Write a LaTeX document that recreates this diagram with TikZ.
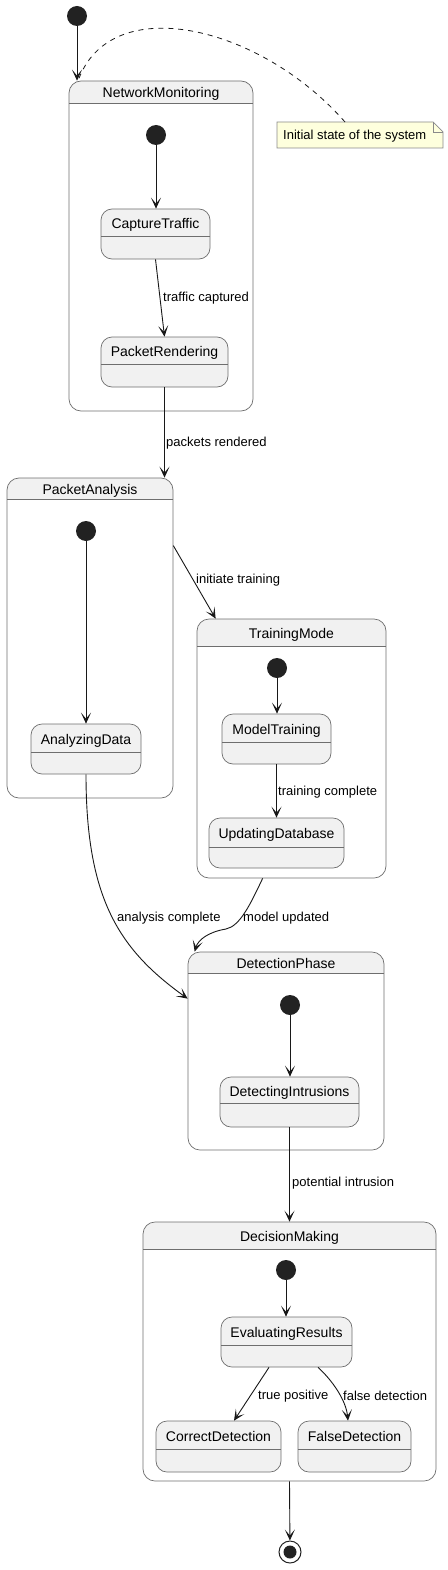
\documentclass[tikz,border=0pt]{standalone}
\usepackage{fontspec}
\setmainfont{Liberation Sans}
\usetikzlibrary{arrows.meta,calc}
\definecolor{stfill}{HTML}{F1F1F1}
\definecolor{stborder}{HTML}{6E6E6E}
\definecolor{arr}{HTML}{181818}
\definecolor{dot}{HTML}{222222}
\definecolor{notefill}{HTML}{FEFFDD}
\definecolor{noteborder}{HTML}{8A8A8A}
\tikzset{
  sstate/.style={draw=stborder, line width=0.7pt, fill=stfill, rounded corners=11pt, inner sep=0pt, rectangle},
  cstate/.style={draw=stborder, line width=0.7pt, rounded corners=12pt, inner sep=0pt, rectangle},
  sepline/.style={draw=stborder, line width=0.7pt},
  stitle/.style={font=\fontsize{14}{16}\selectfont, inner sep=0pt, text=black},
  lbl/.style={font=\fontsize{13}{15}\selectfont, inner sep=0pt, text=black, anchor=west},
  startdot/.style={circle, fill=dot, draw=none, minimum size=20pt, inner sep=0pt},
  enddot/.style={circle, draw=dot, line width=1pt, fill=white, minimum size=22pt, inner sep=0pt,
    path picture={\fill[dot] (path picture bounding box.center) circle (6.5pt);}},
  trans/.style={draw=arr, line width=0.9pt, -{Stealth[length=11pt, width=10pt, inset=6pt]}},
  notelink/.style={draw=arr, line width=0.8pt, dash pattern=on 5pt off 5pt},
}
\newcommand{\simplestate}[7]{%
  \node[sstate, minimum width={(#4-#2)*1pt}, minimum height={(#5-#3)*1pt}] (#1) at ({(#2+#4)/2},{(#3+#5)/2}) {};
  \draw[sepline] (#2,#6) -- (#4,#6);
  \node[stitle, anchor=base] (#1-t) at ({(#2+#4)/2},{(#3+#6)/2+6}) {#7};
}
\newcommand{\compstate}[7]{%
  \begin{scope}
    \clip (#2,#3) rectangle (#4,#6);
    \fill[stfill, rounded corners=12pt] (#2,#3) rectangle (#4,#5);
  \end{scope}
  \node[cstate, minimum width={(#4-#2)*1pt}, minimum height={(#5-#3)*1pt}] (#1) at ({(#2+#4)/2},{(#3+#5)/2}) {};
  \draw[sepline] (#2,#6) -- (#4,#6);
  \node[stitle, anchor=base] (#1-t) at ({(#2+#4)/2},{(#3+#6)/2+6}) {#7};
}
\begin{document}
\begin{tikzpicture}[x=1pt, y=-1pt]
\useasboundingbox (0,0) rectangle (447,1570);

% ---- states ----
\compstate{NM}{69}{81}{253}{411}{103}{NetworkMonitoring}
\simplestate{CT}{101}{209}{210}{259}{236}{CaptureTraffic}
\simplestate{PR}{101}{337}{228}{387}{364}{PacketRendering}

\compstate{PA}{7}{478}{173}{798}{499}{PacketAnalysis}
\simplestate{AD}{31}{724}{141}{774}{752}{AnalyzingData}

\compstate{TM}{197}{619}{386}{878}{646}{TrainingMode}
\simplestate{MT}{222}{714}{331}{764}{742}{ModelTraining}
\simplestate{UD}{209}{818}{344}{868}{847}{UpdatingDatabase}

\compstate{DP}{188}{952}{384}{1150}{973}{DetectionPhase}
\simplestate{DI}{220}{1077}{359}{1127}{1103}{DetectingIntrusions}

\compstate{DM}{143}{1222}{436}{1481}{1249}{DecisionMaking}
\simplestate{ER}{221}{1317}{352}{1367}{1345}{EvaluatingResults}
\simplestate{CD}{156}{1421}{281}{1472}{1449}{CorrectDetection}
\simplestate{FD}{298}{1421}{411}{1472}{1449}{FalseDetection}

% ---- pseudo states ----
\node[startdot] (s0) at (77,16) {};
\node[startdot] (s1) at (156,135) {};
\node[startdot] (s2) at (86,531) {};
\node[startdot] (s3) at (277,668) {};
\node[startdot] (s4) at (290,1005) {};
\node[startdot] (s5) at (286,1270) {};
\node[enddot] (fin) at (290,1552) {};

% ---- note ----
\coordinate (n1) at (277,122);
\coordinate (n2) at (433,122);
\coordinate (n3) at (443,132);
\coordinate (n4) at (443,148);
\coordinate (n5) at (277,148);
\filldraw[fill=notefill, draw=noteborder, line width=0.7pt] (n1) -- (n2) -- (n3) -- (n4) -- (n5) -- cycle;
\draw[noteborder, line width=0.7pt] (n2) -- (433,132) -- (n3);
\node[lbl] (note) at (283,136) {Initial state of the system};
\coordinate (notetop) at (345,122);
\coordinate (nmtop) at (78,81);
\draw[notelink] (notetop) .. controls (260,25) and (110,-10) .. (nmtop);

% ---- transitions ----
\draw[trans] (s0) -- (s0 |- NM.north);
\draw[trans] (s1) -- (s1 |- CT.north);
\draw[trans] (CT.south) -- (PR.north);
\node[lbl] (l1) at (163,298) {traffic captured};
\draw[trans] (PR.south) -- (PR.south |- PA.north);
\node[lbl] (l2) at (166,443) {packets rendered};

\draw[trans] (s2) -- (s2 |- AD.north);
\draw[trans] ($(PA.north east)+(0,68)$) -- ($(TM.north west)+(19,0)$);
\node[lbl] (l3) at (196,580) {initiate training};

\draw[trans] (s3) -- (s3 |- MT.north);
\draw[trans] (MT.south) -- (MT.south |- UD.north);
\node[lbl] (l4) at (278,792) {training complete};

\draw[trans] (AD.south) .. controls (86,900) and (120,950) .. ($(DP.north west)+(0,47)$);
\node[lbl] (l5) at (117,918) {analysis complete};
\draw[trans] ($(TM.south west)+(66,0)$) .. controls (250,905) and (240,926) .. (226,929)
   .. controls (208,932) and (198,940) .. ($(DP.north west)+(7,0)$);
\node[lbl] (l6) at (243,918) {model updated};

\draw[trans] (s4) -- (s4 |- DI.north);
\draw[trans] (DI.south) -- (DI.south |- DM.north);
\node[lbl] (l7) at (292,1183) {potential intrusion};

\draw[trans] (s5) -- (s5 |- ER.north);
\draw[trans] ($(ER.south)+(-17.5,0)$) -- ($(CD.north)+(15.5,0)$);
\node[lbl] (l8) at (258,1396) {true positive};
\draw[trans] ($(ER.south)+(31.5,0)$) .. controls (332,1380) and (346,1400) .. ($(FD.north)+(-6.5,0)$);
\node[lbl] (l9) at (343,1396) {false detection};

\draw[trans] (DM.south) -- (fin);
\end{tikzpicture}
\end{document}
